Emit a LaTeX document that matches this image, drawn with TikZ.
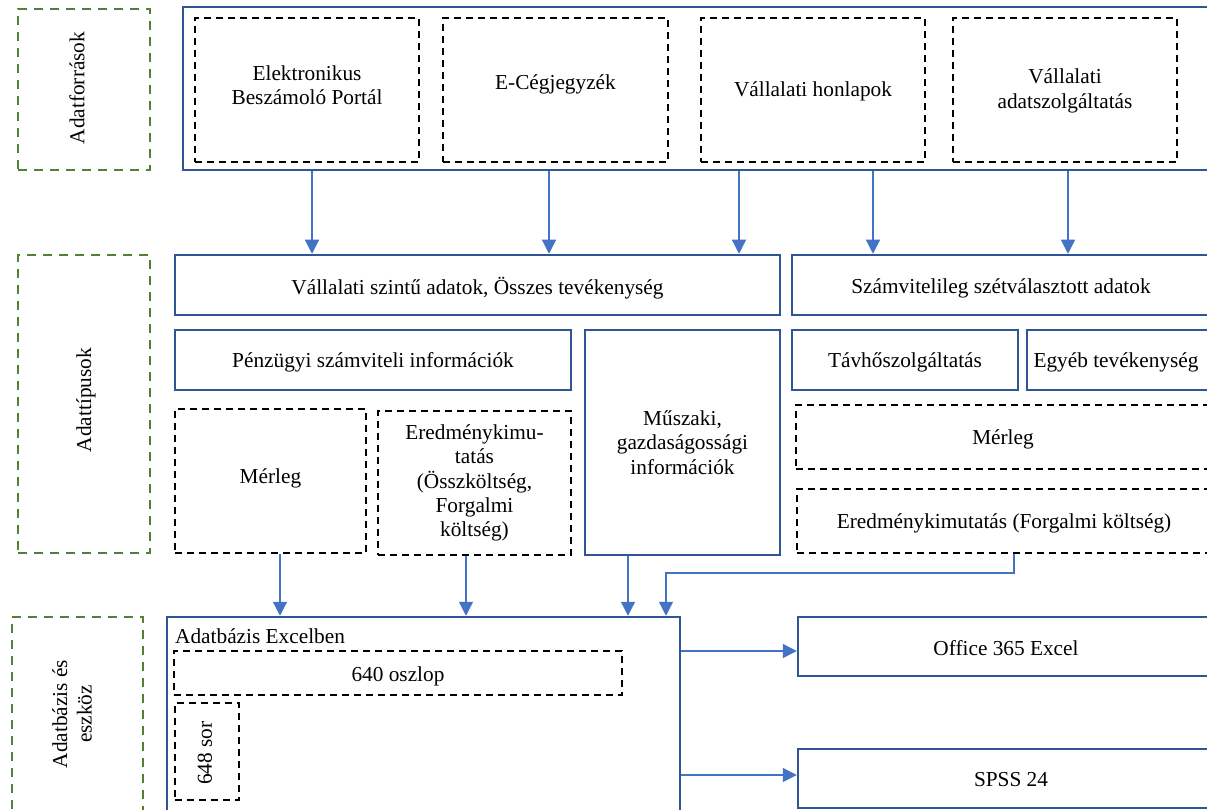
\documentclass[tikz,border=0pt]{standalone}
\usepackage{fontspec}
\setmainfont{Liberation Serif}
\usetikzlibrary{arrows.meta}
\definecolor{boxblue}{RGB}{47,85,151}
\definecolor{arrblue}{RGB}{68,114,196}
\definecolor{grn}{RGB}{84,130,53}
\begin{document}
\begin{tikzpicture}[x=1pt,y=-1pt,
  font=\fontsize{21.3}{24.4}\selectfont,
  sz/.style 2 args={minimum width=#1pt, minimum height=#2pt},
  bluebox/.style={draw=boxblue, line width=2.5pt, inner sep=0pt, align=center},
  blackdash/.style={draw=black, line width=2pt, dash pattern=on 7pt off 5pt, inner sep=0pt, align=center},
  greendash/.style={draw=grn, line width=2.5pt, dash pattern=on 9pt off 7pt, inner sep=0pt},
  txt/.style={inner sep=0pt, align=center},
  arr/.style={draw=arrblue, line width=1.3pt, -{Triangle[length=14pt,width=14pt]}}]
\useasboundingbox (0,0) rectangle (1207,810);
\clip (0,0) rectangle (1207,810);

% left category boxes
\node[greendash, sz={132}{161}] (g1) at (84,89.5) {};
\node[txt, rotate=90] (g1t) at (77,88) {Adatforrások};
\node[greendash, sz={132}{298}] (g2) at (84,404) {};
\node[txt, rotate=90] (g2t) at (86,400) {Adattípusok};
\node[greendash, sz={131}{195}] (g3) at (77.5,714.5) {};
\node[txt, rotate=90] (g3t) at (72,714) {Adatbázis és\\eszköz};

% sources
\node[bluebox, sz={1032}{163}] (top) at (699,88.5) {};
\node[blackdash, sz={224}{144}] (ebp) at (307,90) {};
\node[txt] (ebpt) at (307,85) {Elektronikus\\Beszámoló Portál};
\node[blackdash, sz={225}{144}] (ecg) at (555.5,90) {};
\node[txt] (ecgt) at (555.5,84) {E-Cégjegyzék};
\node[blackdash, sz={224}{144}] (hon) at (813,90) {};
\node[txt] (hont) at (813,91) {Vállalati honlapok};
\node[blackdash, sz={224}{144}] (adsz) at (1065,90) {};
\node[txt] (adszt) at (1065,91) {Vállalati\\adatszolgáltatás};

% data types
\node[bluebox, sz={605}{60}] (vall) at (477.5,285) {};
\node[txt] (vallt) at (477.5,288) {Vállalati szintű adatok, Összes tevékenység};
\node[bluebox, sz={418}{60}] (szam) at (1001,285) {};
\node[txt] (szamt) at (1001,288) {Számvitelileg szétválasztott adatok};
\node[bluebox, sz={396}{60}] (penz) at (373,360) {};
\node[txt] (penzt) at (373,362) {Pénzügyi számviteli információk};
\node[bluebox, sz={195}{225}] (musz) at (682.5,442.5) {Műszaki,\\gazdaságossági\\információk};
\node[bluebox, sz={226}{60}] (tavh) at (905,360) {};
\node[txt] (tavht) at (905,362) {Távhőszolgáltatás};
\node[bluebox, sz={182}{60}] (egyeb) at (1118,360) {};
\node[txt] (egyebt) at (1116,362) {Egyéb tevékenység};
\node[blackdash, sz={191}{144}] (merl1) at (270.5,481) {};
\node[txt] (merl1t) at (270.5,478) {Mérleg};
\node[blackdash, sz={193}{144}] (ered1) at (474.5,483) {Eredménykimu-\\tatás\\(Összköltség,\\Forgalmi\\költség)};
\node[blackdash, sz={415}{64}] (merl2) at (1003,437) {};
\node[txt] (merl2t) at (1003,439) {Mérleg};
\node[blackdash, sz={415}{64}] (ered2) at (1004,521) {};
\node[txt] (ered2t) at (1004,523) {Eredménykimutatás (Forgalmi költség)};

% database and tools
\node[bluebox, sz={513}{195}] (db) at (423.5,714.5) {};
\node[txt, anchor=base west] (dbt) at (175,643) {Adatbázis Excelben};
\node[blackdash, sz={448}{44}] (oszl) at (398,673) {};
\node[txt] (oszlt) at (398,676) {640 oszlop};
\node[blackdash, sz={64}{97}] (sor) at (207,751.5) {};
\node[txt, rotate=90] (sort) at (205,753) {648 sor};
\node[bluebox, sz={420}{59}] (off) at (1008,646.5) {};
\node[txt] (offt) at (1006,648) {Office 365 Excel};
\node[bluebox, sz={420}{59}] (spss) at (1008,778.5) {};
\node[txt] (spsst) at (1011,780) {SPSS 24};

% arrows
\draw[arr] (top.south -| 312,0) -- (vall.north -| 312,0);
\draw[arr] (top.south -| 549,0) -- (vall.north -| 549,0);
\draw[arr] (top.south -| 739,0) -- (vall.north -| 739,0);
\draw[arr] (top.south -| 873,0) -- (szam.north -| 873,0);
\draw[arr] (top.south -| 1068,0) -- (szam.north -| 1068,0);

\draw[arr] (merl1.south -| 280,0) -- (db.north -| 280,0);
\draw[arr] (ered1.south -| 466,0) -- (db.north -| 466,0);
\draw[arr] (musz.south -| 628,0) -- (db.north -| 628,0);
\coordinate (bend) at (666,573);
\draw[arr] (ered2.south -| 1014,0) |- (bend) -- (db.north -| 666,0);

\draw[arr] (db.east |- 0,651) -- (off.west |- 0,651);
\draw[arr] (db.east |- 0,775) -- (spss.west |- 0,775);
\end{tikzpicture}
\end{document}
